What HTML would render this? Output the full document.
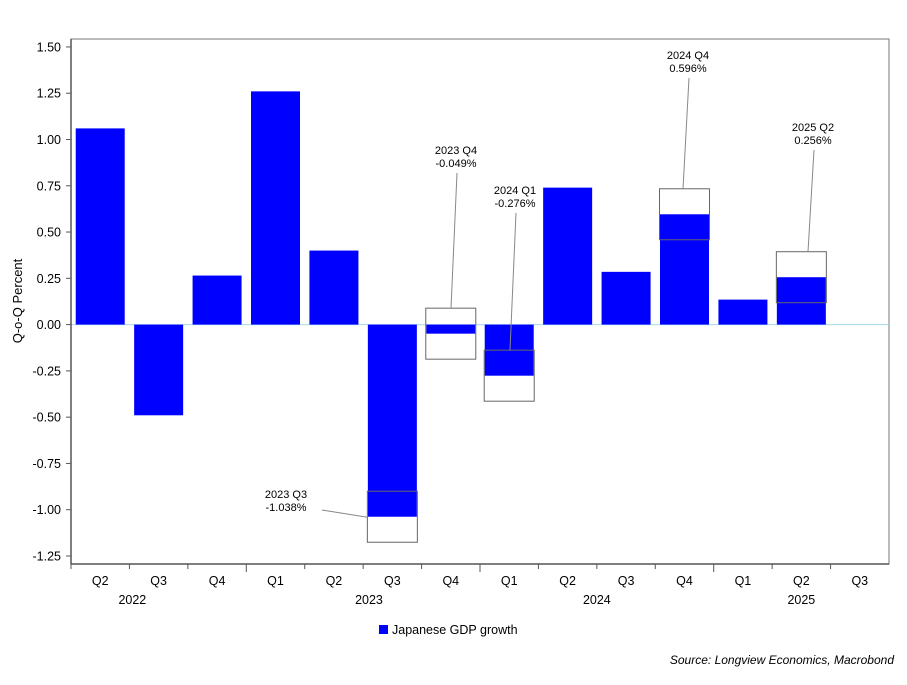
<!DOCTYPE html>
<html><head><meta charset="utf-8"><style>
body{margin:0;background:#fff;font-family:"Liberation Sans",Arial,sans-serif}
svg text{font-family:"Liberation Sans",Arial,sans-serif}
</style></head><body>
<svg id="chart" width="907" height="680" viewBox="0 0 907 680" xmlns="http://www.w3.org/2000/svg">
<rect x="71" y="39" width="818" height="525" fill="none" stroke="#777" stroke-width="1"/>
<g id="grid"></g>
<g id="bars"></g>
<g id="ann"></g>
<line x1="71" y1="39" x2="71" y2="564" stroke="#555" stroke-width="1.5"/>
<line x1="71" y1="564" x2="889" y2="564" stroke="#555" stroke-width="1.5"/>
<text x="22" y="301" font-size="13" text-anchor="middle" transform="rotate(-90 22 301)" fill="#000">Q-o-Q Percent</text>
<rect x="379" y="625" width="9" height="9" fill="#0000ff"/>
<text x="392" y="634" font-size="12.5">Japanese GDP growth</text>
<text x="894" y="664" font-size="12" font-style="italic" text-anchor="end">Source: Longview Economics, Macrobond</text>
</svg>
<script>
const quarters=["Q2","Q3","Q4","Q1","Q2","Q3","Q4","Q1","Q2","Q3","Q4","Q1","Q2","Q3"];
const years=["2022","2023","2024","2025"];
const yearPos=[1.05,5.1,9,12.5];
const values=[1.06,-0.49,0.265,1.26,0.40,-1.038,-0.049,-0.276,0.74,0.285,0.596,0.135,0.256,null];
const yTicks=[1.5,1.25,1.0,0.75,0.5,0.25,0,-0.25,-0.5,-0.75,-1.0,-1.25];
const annIdx=[5,6,7,10,12];
const annLabels=["2023 Q3","2023 Q4","2024 Q1","2024 Q4","2025 Q2"];
const annTexts=["-1.038%","-0.049%","-0.276%","0.596%","0.256%"];
const annPos=[[286,494],[456,150],[515,190],[688,55],[813,127]];
const NS="http://www.w3.org/2000/svg";
const x0=71,w=818/14,y=v=>324.6-v*185.1,xc=i=>x0+w*(i+0.5);
function mk(t,a,p){const e=document.createElementNS(NS,t);for(const k in a)e.setAttribute(k,a[k]);p.appendChild(e);return e;}
const g=document.getElementById('grid'),b=document.getElementById('bars'),an=document.getElementById('ann'),s=document.getElementById('chart');
yTicks.forEach(v=>{
 const l=mk('line',{x1:66,x2:71,y1:y(v),y2:y(v),stroke:'#555'},s);
 
 
 const t=mk('text',{x:61,y:y(v)+4.5,'font-size':12.5,'text-anchor':'end'},s);t.textContent=v.toFixed(2);
 
 
});
const z=mk('line',{x1:71,x2:889,y1:y(0),y2:y(0),stroke:'#a8d8e8','stroke-width':1},g);


quarters.forEach((q,i)=>{
 const bx=x0+w*i;
 const tk=mk('line',{x1:bx,x2:bx,y1:564,y2:quarters[i]==="Q1"?572:569,stroke:'#555'},s);
 
 
 const t=mk('text',{x:xc(i),y:585,'font-size':12.5,'text-anchor':'middle'},s);t.textContent=q;
 
 
 const v=values[i];
 if(v!==null){
  const r=mk('rect',{x:xc(i)-24.5,width:49,y:Math.min(y(v),y(0)),height:Math.abs(y(v)-y(0)),fill:'#0000ff'},b);
  
  
 }
});
years.forEach((yr,k)=>{
 const t=mk('text',{x:x0+w*yearPos[k],y:604,'font-size':12.5,'text-anchor':'middle'},s);t.textContent=yr;
 
 
});
annIdx.forEach((i,k)=>{
 const v=values[i],cy=y(v),bx=xc(i)-25,by=cy-25.5;
 const r=mk('rect',{x:bx,y:by,width:50,height:51,fill:'none',stroke:'#666','stroke-width':1},an);
 
 
 const [lx,ly]=annPos[k];
 let ex,ey,sx,sy;
 if(k===0){sx=lx+36;sy=ly+16;ex=bx;ey=by+26;}
 else{sx=lx+1;sy=ly+23;ey=by;ex=Math.max(bx,Math.min(bx+50,lx-5));}
 const ln=mk('line',{x1:sx,y1:sy,x2:ex,y2:ey,stroke:'#888','stroke-width':1},an);
 
 
 const t1=mk('text',{x:lx,y:ly+4,'font-size':11,'text-anchor':'middle'},an);t1.textContent=annLabels[k];
 
 
 const t2=mk('text',{x:lx,y:ly+17,'font-size':11,'text-anchor':'middle'},an);t2.textContent=annTexts[k];
 
 
});
</script>
</body></html>
